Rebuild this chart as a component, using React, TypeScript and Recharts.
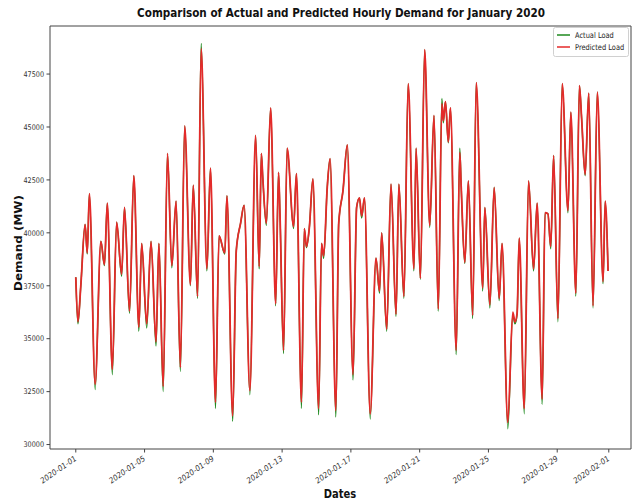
import React from "react";
import { LineChart, Line, XAxis, YAxis, ReferenceLine } from "recharts";

// hour offset from 2020-01-01 00:00
const hours = [
  0, 3, 7, 13, 16, 19, 27, 35, 40, 44,
  51, 57, 64, 68, 75, 81, 88, 92, 99, 105,
  112, 116, 122, 128, 134, 140, 146, 152, 160, 164,
  170, 175, 183, 188, 195, 200, 208, 211, 219, 224,
  230, 235, 243, 251, 256, 259, 261, 266, 272, 279,
  283, 285, 290, 295, 304, 308, 315, 319, 322, 326,
  331, 339, 343, 346, 351, 355, 363, 367, 373, 379,
  387, 392, 396, 399, 403, 411, 419, 424, 427, 434,
  440, 447, 451, 458, 464, 472, 475, 481, 487, 494,
  500, 506, 511, 513, 516, 520, 523, 531, 536, 538,
  543, 548, 554, 559, 568, 571, 578, 584, 591, 595,
  603, 610, 613, 616, 619, 626, 632, 639, 644, 651,
  655, 659, 663, 667, 673, 679, 687, 691, 698, 703,
  706, 711, 716, 722, 728, 736, 739, 743,
];

const actualLoad = [
  37900, 35700, 37500, 40400, 39000, 41850, 32600, 39600, 38450, 41400,
  33300, 40500, 37950, 41200, 36200, 42700, 35350, 39500, 35500, 39600,
  34650, 39500, 32500, 43750, 38350, 41500, 33450, 45050, 37500, 42250,
  36900, 48950, 38200, 43050, 31700, 39850, 39000, 41750, 31100, 39150,
  40450, 41300, 32350, 44600, 38300, 43750, 42600, 40350, 45900, 36550,
  42850, 40900, 34300, 44000, 40200, 42800, 31700, 40200, 39300, 40250,
  42550, 31400, 39500, 38800, 42150, 43500, 31300, 40450, 42000, 44150,
  33050, 41200, 41650, 40700, 41650, 31200, 38800, 37150, 40000, 35350,
  42300, 36050, 42300, 36900, 47050, 38200, 44000, 37800, 48650, 40250,
  45550, 36300, 46350, 45200, 46200, 44250, 45900, 34250, 44000, 42150,
  38550, 42450, 35950, 47100, 37250, 41200, 36450, 42150, 36800, 39500,
  30750, 36150, 35700, 36150, 39750, 31450, 42450, 38200, 41400, 31900,
  40950, 40900, 39250, 43650, 35800, 47050, 40950, 45700, 37000, 46950,
  45450, 42700, 46600, 36450, 46650, 37600, 41500, 38200,
];

const predictedLoad = [
  37900, 35800, 37500, 40400, 39050, 41850, 32850, 39600, 38500, 41400,
  33550, 40500, 38050, 41200, 36300, 42700, 35550, 39500, 35700, 39600,
  34850, 39500, 32750, 43750, 38450, 41500, 33650, 45050, 37550, 42250,
  37000, 48700, 38300, 43050, 32000, 39850, 39050, 41750, 31350, 39150,
  40450, 41300, 32550, 44600, 38400, 43750, 42600, 40450, 45900, 36650,
  42850, 40900, 34450, 44000, 40300, 42800, 32000, 40200, 39350, 40250,
  42550, 31700, 39500, 38900, 42150, 43500, 31600, 40450, 42000, 44150,
  33300, 41200, 41650, 40800, 41650, 31450, 38800, 37250, 40000, 35450,
  42300, 36150, 42300, 37000, 47050, 38300, 44000, 37850, 48650, 40350,
  45550, 36400, 46100, 45300, 46200, 44300, 45900, 34450, 43800, 42150,
  38600, 42450, 36100, 47100, 37400, 41200, 36600, 42150, 36900, 39500,
  31050, 36250, 35800, 36200, 39750, 31700, 42450, 38300, 41400, 32150,
  40950, 40900, 39350, 43650, 35950, 47050, 41050, 45700, 37150, 46950,
  45450, 42750, 46600, 36550, 46650, 37700, 41500, 38200,
];

const tickHours = [0, 96, 192, 288, 384, 480, 576, 672, 744];
const tickLabels = [
  "2020-01-01", "2020-01-05", "2020-01-09", "2020-01-13", "2020-01-17",
  "2020-01-21", "2020-01-25", "2020-01-29", "2020-02-01",
];
const yTicks = [30000, 32500, 35000, 37500, 40000, 42500, 45000, 47500];

const seriesNames = ["Actual Load", "Predicted Load"];
const GREEN = "#1f8a1f";
const RED = "#e42a2a";
const FONT = "'DejaVu Sans', sans-serif";

const data = hours.map((h, i) => ({
  hour: h,
  actual: actualLoad[i],
  predicted: predictedLoad[i],
}));

const X_DOMAIN: [number, number] = [-36, 775];
const Y_DOMAIN: [number, number] = [29790, 49770];

const XTick = (props: any) => {
  const { x, y, payload } = props;
  const i = tickHours.indexOf(payload.value);
  const label = i >= 0 ? tickLabels[i] : String(payload.value);
  return (
    <g transform={`translate(${x + 1},${y + 4.5}) scale(0.83,1) rotate(-30)`}>
      <text x={0} y={0} textAnchor="end" fontSize={8.3} fill="#333" fontFamily={FONT}>
        {label}
      </text>
    </g>
  );
};

const YTick = (props: any) => {
  const { x, y, payload } = props;
  return (
    <g transform={`translate(${x},${y}) scale(0.83,1)`}>
      <text x={0} y={0} dy="0.35em" textAnchor="end" fontSize={7.8} fill="#333" fontFamily={FONT}>
        {payload.value}
      </text>
    </g>
  );
};

export default function App() {
  return (
    <div style={{ position: "absolute", left: 0, top: 0, width: 632, height: 503, background: "#fff" }}>
      <LineChart
        width={632}
        height={503}
        data={data}
        margin={{ top: 26, right: 1, bottom: 0, left: 0 }}
      >
        <XAxis
          dataKey="hour"
          type="number"
          domain={X_DOMAIN}
          ticks={tickHours}
          tick={<XTick />}
          tickSize={3.5}
          tickMargin={3}
          height={54}
          interval={0}
          allowDataOverflow
          axisLine={{ stroke: "#444", strokeWidth: 1 }}
          tickLine={{ stroke: "#444" }}
        />
        <YAxis
          type="number"
          domain={Y_DOMAIN}
          ticks={yTicks}
          tick={<YTick />}
          tickSize={3.5}
          tickMargin={2.5}
          width={50}
          interval={0}
          allowDataOverflow
          axisLine={{ stroke: "#444", strokeWidth: 1 }}
          tickLine={{ stroke: "#444" }}
        />
        <ReferenceLine y={Y_DOMAIN[1]} stroke="#444" strokeWidth={1} ifOverflow="extendDomain" />
        <ReferenceLine x={X_DOMAIN[1]} stroke="#444" strokeWidth={1} ifOverflow="extendDomain" />
        <Line
          type="monotone"
          dataKey="actual"
          name={seriesNames[0]}
          stroke={GREEN}
          strokeWidth={1.4}
          dot={false}
          isAnimationActive={false}
        />
        <Line
          type="monotone"
          dataKey="predicted"
          name={seriesNames[1]}
          stroke={RED}
          strokeWidth={1.8}
          dot={false}
          isAnimationActive={false}
        />
      </LineChart>
      <svg
        width={632}
        height={503}
        style={{ position: "absolute", left: 0, top: 0, pointerEvents: "none" }}
      >
        <text
          transform="translate(341,17) scale(0.87,1)"
          textAnchor="middle"
          fontSize={12}
          fontWeight="bold"
          fontFamily={FONT}
          fill="#111"
        >
          Comparison of Actual and Predicted Hourly Demand for January 2020
        </text>
        <text
          transform="translate(21.5,243) scale(0.83,1) rotate(-90)"
          textAnchor="middle"
          fontSize={12}
          fontWeight="bold"
          fontFamily={FONT}
          fill="#111"
        >
          Demand (MW)
        </text>
        <text
          transform="translate(340,498) scale(0.83,1)"
          textAnchor="middle"
          fontSize={12}
          fontWeight="bold"
          fontFamily={FONT}
          fill="#111"
        >
          Dates
        </text>
        <g transform="translate(553,27)">
          <rect x={0.5} y={0.5} width={75} height={29} rx={2} fill="#fff" fillOpacity={0.85} stroke="#d0d0d0" />
          <line x1={4} x2={17} y1={8} y2={8} stroke={GREEN} strokeWidth={1.5} />
          <text transform="translate(22,10.8) scale(0.83,1)" fontSize={8} fontFamily={FONT} fill="#222">
            {seriesNames[0]}
          </text>
          <line x1={4} x2={17} y1={20} y2={20} stroke={RED} strokeWidth={1.5} />
          <text transform="translate(22,22.8) scale(0.83,1)" fontSize={8} fontFamily={FONT} fill="#222">
            {seriesNames[1]}
          </text>
        </g>
      </svg>
    </div>
  );
}
